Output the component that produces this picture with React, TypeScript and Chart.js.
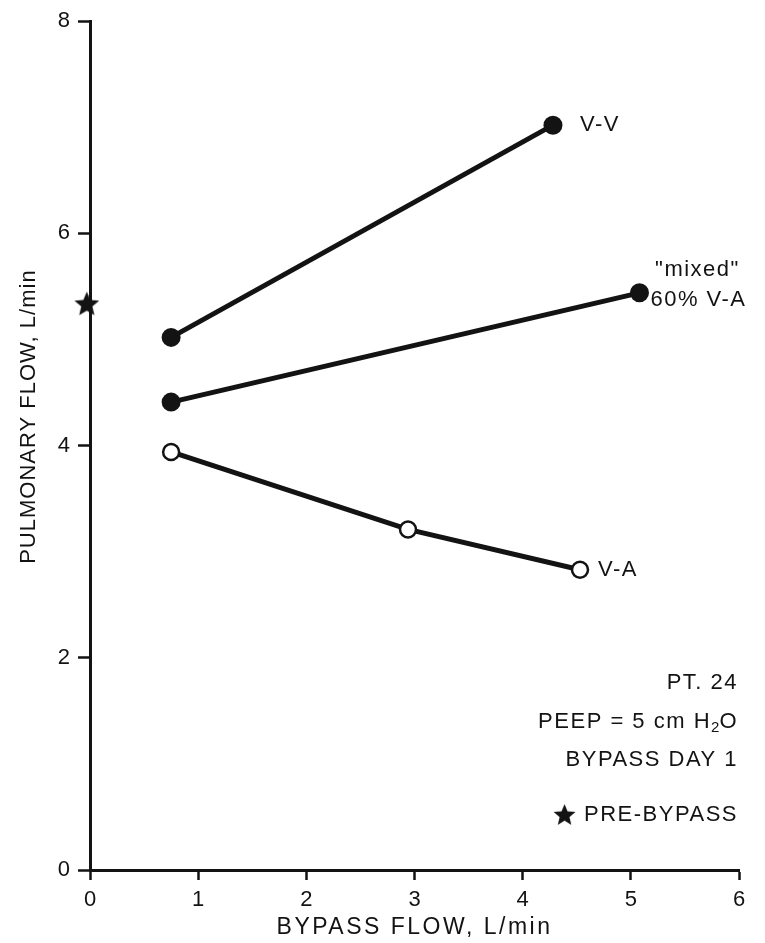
import React, { useEffect, useRef } from 'react';
import { Chart, registerables } from 'chart.js';

Chart.register(...registerables);

// ---- data ----
const vvX = [0.75, 4.28];
const vvY = [5.02, 7.02];
const mixedX = [0.75, 5.08];
const mixedY = [4.41, 5.44];
const vaX = [0.75, 2.94, 4.53];
const vaY = [3.94, 3.21, 2.83];
const preX = [-0.03];
const preY = [5.34];
const xTickValues = [0, 1, 2, 3, 4, 5, 6];
const yTickValues = [0, 2, 4, 6, 8];
const seriesLabels = ['V-V', '"mixed"', '60% V-A', 'V-A'];
const noteLines = ['PT. 24', 'PEEP = 5 cm H', 'BYPASS DAY 1', 'PRE-BYPASS'];
const xTitle = 'BYPASS FLOW, L/min';
const yTitle = 'PULMONARY FLOW, L/min';

const INK = '#131313';
const FONT = '"Liberation Sans", Arial, Helvetica, sans-serif';

function makeStar(size: number): HTMLCanvasElement {
  const c = document.createElement('canvas');
  c.width = size;
  c.height = size;
  const ctx = c.getContext('2d')!;
  ctx.fillStyle = INK;
  ctx.beginPath();
  const cx = size / 2;
  const cy = size / 2 + size * 0.05;
  const R = size / 2;
  const r = R * 0.45;
  for (let i = 0; i < 10; i++) {
    const rad = i % 2 === 0 ? R : r;
    const a = -Math.PI / 2 + (i * Math.PI) / 5;
    const px = cx + rad * Math.cos(a);
    const py = cy + rad * Math.sin(a);
    if (i === 0) ctx.moveTo(px, py);
    else ctx.lineTo(px, py);
  }
  ctx.closePath();
  ctx.fill();
  return c;
}

const toPts = (xs: number[], ys: number[]) => xs.map((x, i) => ({ x, y: ys[i] }));

export default function App() {
  const ref = useRef<HTMLCanvasElement | null>(null);

  useEffect(() => {
    if (!ref.current) return;
    const star = makeStar(26);
    const smallStar = makeStar(23);

    const textPlugin = {
      id: 'textPlugin',
      beforeDraw(chart: any) {
        chart.ctx.letterSpacing = '0px';
      },
      afterDatasetsDraw(chart: any) {
        const { ctx, chartArea } = chart;
        const xs = chart.scales.x;
        const ys = chart.scales.y;
        ctx.save();
        ctx.fillStyle = INK;
        ctx.textBaseline = 'middle';
        ctx.font = `22px ${FONT}`;
        (ctx as any).letterSpacing = '1.5px';

        // series labels
        ctx.textAlign = 'left';
        ctx.fillText(seriesLabels[0], xs.getPixelForValue(vvX[1]) + 27, ys.getPixelForValue(vvY[1]));
        const mx = xs.getPixelForValue(mixedX[1]);
        const my = ys.getPixelForValue(mixedY[1]);
        ctx.textAlign = 'center';
        ctx.fillText(seriesLabels[1], mx + 58, my - 23);
        ctx.fillText(seriesLabels[2], mx + 59, my + 7);
        ctx.textAlign = 'left';
        ctx.fillText(seriesLabels[3], xs.getPixelForValue(vaX[2]) + 18, ys.getPixelForValue(vaY[2]));

        // notes (right aligned)
        const right = chartArea.right - 1;
        ctx.textAlign = 'right';
        ctx.fillText(noteLines[0], right, ys.getPixelForValue(1.76));
        // PEEP = 5 cm H2O
        const peepY = ys.getPixelForValue(1.4);
        const wO = ctx.measureText('O').width;
        ctx.fillText('O', right, peepY);
        ctx.font = `15px ${FONT}`;
        (ctx as any).letterSpacing = '0px';
        const w2 = ctx.measureText('2').width;
        ctx.fillText('2', right - wO, peepY + 6);
        ctx.font = `22px ${FONT}`;
        (ctx as any).letterSpacing = '1.5px';
        ctx.fillText(noteLines[1], right - wO - w2, peepY);
        ctx.fillText(noteLines[2], right, ys.getPixelForValue(1.04));
        const preYpx = ys.getPixelForValue(0.52);
        ctx.fillText(noteLines[3], right, preYpx);
        const wPre = ctx.measureText(noteLines[3]).width;
        ctx.drawImage(smallStar, right - wPre - 31, preYpx - 12);

        // axis titles
        ctx.textAlign = 'center';
        ctx.font = `23px ${FONT}`;
        (ctx as any).letterSpacing = '2.5px';
        ctx.fillText(xTitle, (chartArea.left + chartArea.right) / 2, 928);
        ctx.save();
        ctx.translate(29, (chartArea.top + chartArea.bottom) / 2 - 29);
        ctx.rotate(-Math.PI / 2);
        ctx.font = `22px ${FONT}`;
        (ctx as any).letterSpacing = '1px';
        ctx.fillText(yTitle, 0, 0);
        ctx.restore();
        ctx.restore();
      },
    };

    const lineDs = (xs: number[], ys: number[], open: boolean) => ({
      data: toPts(xs, ys),
      showLine: true,
      borderColor: INK,
      borderWidth: 5,
      pointRadius: open ? 8 : 9.5,
      pointBackgroundColor: open ? '#ffffff' : INK,
      pointBorderColor: INK,
      pointBorderWidth: open ? 2.5 : 0,
      pointHoverRadius: 9,
      clip: false as any,
      order: 1,
    });

    const chart = new Chart(ref.current, {
      type: 'scatter',
      data: {
        datasets: [
          lineDs(vvX, vvY, false),
          lineDs(mixedX, mixedY, false),
          lineDs(vaX, vaY, true),
          {
            data: toPts(preX, preY),
            showLine: false,
            pointStyle: star as any,
            pointRadius: 13,
            clip: false as any,
            order: 0,
          } as any,
        ],
      },
      options: {
        animation: false,
        responsive: false,
        maintainAspectRatio: false,
        layout: { padding: { top: 18, right: 26, left: 0, bottom: 0 } },
        plugins: {
          legend: { display: false },
          tooltip: { enabled: false },
          title: { display: false },
        },
        scales: {
          x: {
            type: 'linear',
            min: 0,
            max: 6,
            afterFit: (s: any) => {
              s.height = 73;
            },
            afterBuildTicks: (s: any) => {
              s.ticks = xTickValues.map((v) => ({ value: v }));
            },
            ticks: {
              color: INK,
              font: { family: FONT, size: 22 },
              padding: 7,
              maxRotation: 0,
            },
            grid: {
              display: true,
              drawOnChartArea: false,
              drawTicks: true,
              tickLength: 10,
              tickColor: INK,
              tickWidth: 2.5,
            },
            border: { display: true, color: INK, width: 3 },
          },
          y: {
            type: 'linear',
            min: 0,
            max: 8,
            afterFit: (s: any) => {
              s.width = 90;
            },
            afterBuildTicks: (s: any) => {
              s.ticks = yTickValues.map((v) => ({ value: v }));
            },
            ticks: {
              color: INK,
              font: { family: FONT, size: 22 },
              padding: 8,
            },
            grid: {
              display: true,
              drawOnChartArea: false,
              drawTicks: true,
              tickLength: 12,
              tickColor: INK,
              tickWidth: 2.5,
            },
            border: { display: true, color: INK, width: 3 },
          },
        },
      },
      plugins: [textPlugin],
    });

    return () => chart.destroy();
  }, []);

  return (
    <div style={{ position: 'absolute', left: 0, top: 0, width: 765, height: 943, background: '#fff' }}>
      <canvas ref={ref} width={765} height={943} style={{ display: 'block', width: 765, height: 943 }} />
    </div>
  );
}
